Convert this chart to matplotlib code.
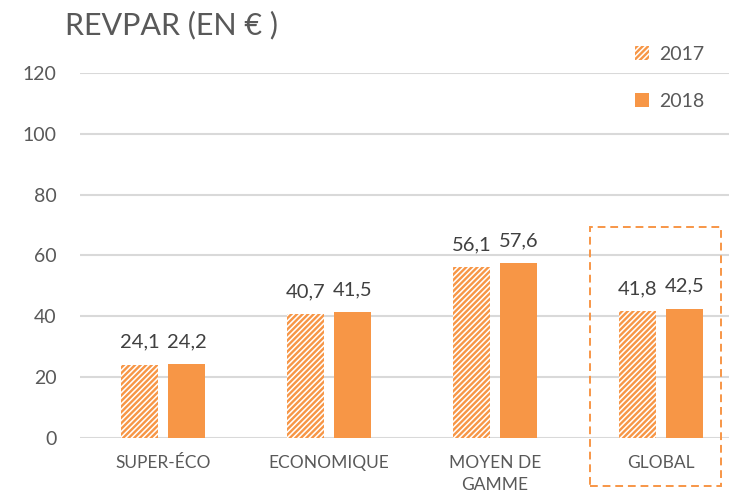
import matplotlib
matplotlib.use("Agg")
import matplotlib.pyplot as plt
from matplotlib.patches import Rectangle
import numpy as np

categories = ["SUPER-ÉCO", "ECONOMIQUE", "MOYEN DE\nGAMME", "GLOBAL"]
series_names = ["2017", "2018"]
values_2017 = [24.1, 40.7, 56.1, 41.8]
values_2018 = [24.2, 41.5, 57.6, 42.5]
yticks = [0, 20, 40, 60, 80, 100, 120]

ORANGE = "#F79646"
GRAY = "#595959"
GRID = "#D9D9D9"

plt.rcParams["font.family"] = ["Lato", "DejaVu Sans"]
plt.rcParams["hatch.linewidth"] = 1.7

W, H = 729, 491
fig = plt.figure(figsize=(W / 100, H / 100), dpi=100)
ax = fig.add_axes([80 / W, (H - 438) / H, 664 / W, (438 - 73) / H])

x = np.arange(len(categories))
bw = 0.225
off = 0.142
b1 = ax.bar(x - off, values_2017, bw, color="white", edgecolor=ORANGE,
            hatch="//////", linewidth=0, label=series_names[0], zorder=3)
b2 = ax.bar(x + off, values_2018, bw, color=ORANGE, linewidth=0,
            label=series_names[1], zorder=3)

for bars, vals in ((b1, values_2017), (b2, values_2018)):
    for rect, v in zip(bars, vals):
        ax.annotate(f"{v:.1f}".replace(".", ","),
                    (rect.get_x() + rect.get_width() / 2, rect.get_height()),
                    xytext=(0, 10), textcoords="offset points",
                    ha="center", va="bottom", fontsize=14.5, color="#404040")

ax.set_xlim(-0.5, len(categories) - 0.5)
ax.set_ylim(0, 120)
ax.set_yticks(yticks)
ax.set_yticklabels([str(t) for t in yticks])
ax.set_xticks(x)
ax.set_xticklabels(categories, fontsize=12.5, color=GRAY, linespacing=1.5)
ax.tick_params(axis="both", length=0)
ax.tick_params(axis="y", labelsize=14, labelcolor=GRAY, pad=17)
ax.tick_params(axis="x", pad=12)
ax.grid(axis="y", color=GRID, linewidth=1.5, zorder=0)
for s in ax.spines.values():
    s.set_visible(False)
ax.set_axisbelow(True)

fig.text(65 / W, 1 - 25 / H, "REVPAR (EN € )", fontsize=22, color=GRAY,
         ha="left", va="center")

fig.legend(handles=[b1, b2], labels=series_names, loc="upper left",
           bbox_to_anchor=(617 / W, 1 - 28 / H), frameon=False,
           fontsize=14, labelcolor=GRAY, handlelength=0.75, handleheight=0.75,
           handletextpad=0.5, labelspacing=1.55)

rect = Rectangle((590 / W, (H - 486) / H), 131 / W, 259 / H,
                 transform=fig.transFigure, fill=False, edgecolor=ORANGE,
                 linewidth=1.4, linestyle=(0, (4, 2.5)), zorder=10)
fig.patches.append(rect)

fig.savefig("out.png", dpi=100)
